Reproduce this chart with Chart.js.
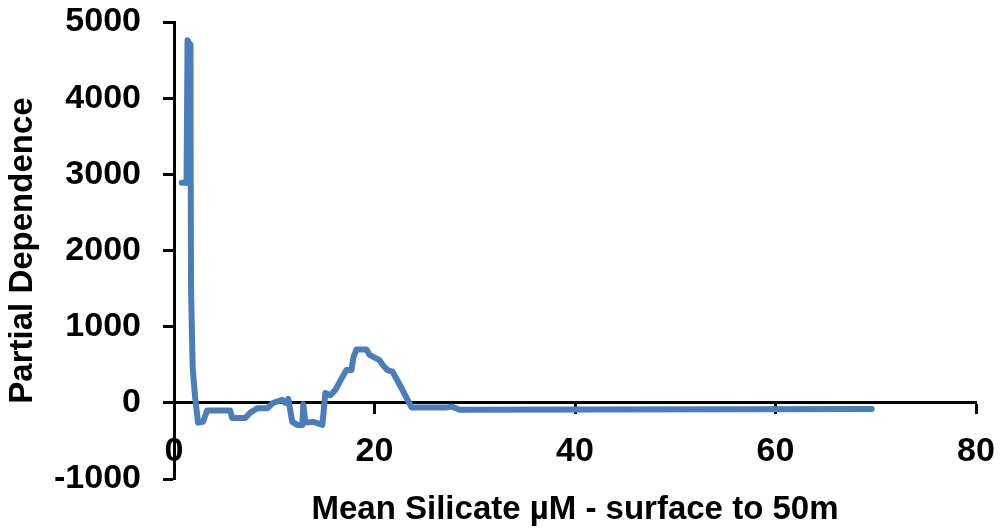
<!DOCTYPE html>
<html>
<head>
<meta charset="utf-8">
<script src="https://cdn.jsdelivr.net/npm/chart.js@4"></script>
<style>
  html, body { margin: 0; padding: 0; background: #fff; }
  #wrap { width: 1000px; height: 529px; }
</style>
</head>
<body>
<div id="wrap"><canvas id="chart" width="1000" height="529"></canvas></div>
<script>
// Partial dependence vs mean silicate
const silicate = [0.77, 1.25, 1.35, 1.6, 1.65, 1.7, 1.86, 2.1, 2.4, 2.9, 3.3, 5.6, 5.8, 7.1, 7.6, 8.3, 9.3, 9.9,
  10.8, 11.1, 11.4, 11.8, 12.3, 12.8, 12.9, 13.1, 13.9, 14.8, 15.1, 15.6, 16.1, 16.8, 17.2, 17.7, 17.9, 18.2,
  19.2, 19.5, 20.5, 20.8, 21.3, 21.8, 22.5, 23.7, 27.2, 27.7, 28.5, 69.6];
const dependence = [2890, 2890, 4760, 4700, 3800, 1500, 470, 80, -260, -250, -100, -100, -200, -200, -130, -70, -70, 0,
  40, 0, 50, -250, -290, -290, -20, -260, -250, -290, 130, 100, 170, 340, 430, 430, 600, 700,
  700, 630, 560, 500, 430, 410, 240, -60, -60, -50, -90, -80];

const xTitle = 'Mean Silicate µM - surface to 50m';
const yTitle = 'Partial Dependence';

const FONT = 'Liberation Sans, Arial, sans-serif';

const points = silicate.map((x, i) => ({ x: x, y: dependence[i] }));

new Chart(document.getElementById('chart'), {
  type: 'line',
  data: {
    datasets: [{
      data: points,
      borderColor: '#4a7ebb',
      borderWidth: 6,
      pointRadius: 0,
      tension: 0,
      borderCapStyle: 'round',
      borderJoinStyle: 'round',
      fill: false
    }]
  },
  options: {
    responsive: false,
    animation: false,
    devicePixelRatio: 1,
    layout: { padding: { left: 0, right: 24, top: 22, bottom: 50 } },
    plugins: { legend: { display: false }, tooltip: { enabled: false } },
    scales: {
      x: {
        type: 'linear',
        position: { y: 0 },
        min: 0, max: 80,
        ticks: { stepSize: 20, color: '#000', padding: 18, callback: v => String(v),
          font: { family: FONT, size: 34, weight: 'bold' } },
        grid: { drawOnChartArea: false, drawTicks: true, tickLength: 10, tickColor: '#000', tickWidth: 3 },
        border: { display: true, color: '#000', width: 3 },
        title: { display: true, text: xTitle, color: '#000', padding: 0,
          font: { family: FONT, size: 33, weight: 'bold' } },
        // axis sits at y = 0, so its size doesn't reserve room; height only places the title
        afterFit: s => { s.paddingLeft = 0; s.paddingRight = 0; s.height = 127; }
      },
      y: {
        min: -1000, max: 5000,
        ticks: { stepSize: 1000, color: '#000', padding: 22, callback: v => String(v),
          font: { family: FONT, size: 34, weight: 'bold' } },
        grid: { drawOnChartArea: false, drawTicks: true, tickLength: 11, tickColor: '#000', tickWidth: 3 },
        border: { display: true, color: '#000', width: 3 },
        title: { display: true, text: yTitle, color: '#000', padding: { top: 3, bottom: 0 },
          font: { family: FONT, size: 33, weight: 'bold' } },
        afterFit: s => { s.width = 174; s.paddingTop = 0; s.paddingBottom = 0; }
      }
    }
  }
});
</script>
</body>
</html>
